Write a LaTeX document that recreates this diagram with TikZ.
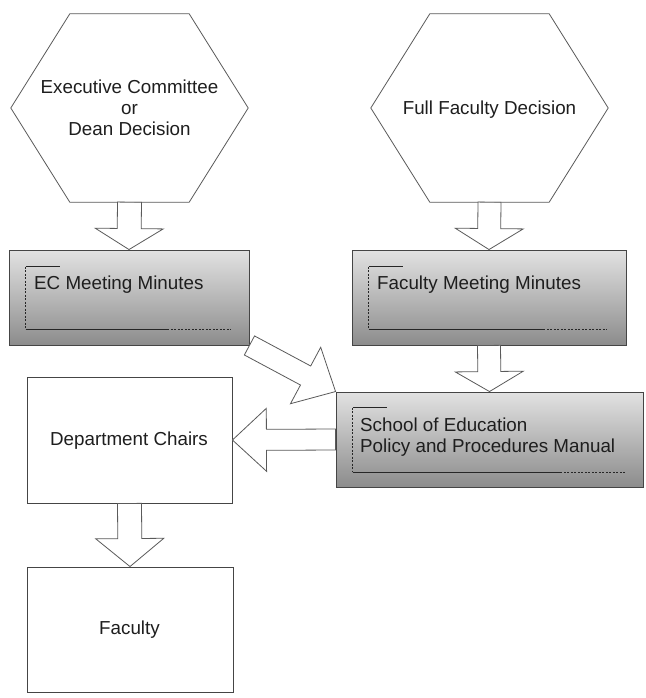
\documentclass[tikz,border=0pt]{standalone}
\usepackage{fontspec}
\setmainfont{Liberation Sans}
\usetikzlibrary{calc}
\definecolor{linegray}{HTML}{5A5A5A}
\definecolor{boxline}{HTML}{454545}
\definecolor{txt}{HTML}{1E1E1E}
\definecolor{gtop}{HTML}{E2E2E2}
\definecolor{gbot}{HTML}{8C8C8C}
\tikzset{
  lbl/.style={inner sep=0pt, text=txt, font=\fontsize{18.8}{21}\selectfont},
  hexbox/.style={draw=none, minimum width=237pt, minimum height=188pt, inner sep=0pt},
  hexline/.style={draw=linegray, line width=0.8pt, fill=white, line join=miter},
  shadebox/.style={draw=boxline, line width=0.9pt, top color=gtop, bottom color=gbot, minimum height=95pt, inner sep=0pt},
  plainbox/.style={draw=boxline, line width=0.9pt, fill=white, inner sep=0pt},
  blockarr/.style={draw=linegray, line width=0.8pt, fill=white, line join=miter},
  brk/.style={draw=black!85, line width=0.8pt},
  brkd/.style={draw=black!85, line width=0.8pt, dash pattern=on 2pt off 1.5pt},
}
% #1 prefix, #2 tail node anchor, #3 tip node anchor, #4 shaft half width, #5 head half width, #6 head length
\newcommand\blockarrow[6]{%
  \coordinate (#1h) at ($(#3)!#6!(#2)$);
  \draw[blockarr] ($(#2)!#4!90:(#3)$) -- ($(#1h)!#4!-90:(#2)$) -- ($(#1h)!#5!-90:(#2)$)
    -- (#3) -- ($(#1h)!#5!90:(#2)$) -- ($(#1h)!#4!90:(#2)$) -- ($(#2)!#4!-90:(#3)$) -- cycle;
}
% #1 node, #2 top offset, #3 bottom offset, #4 solid end from right, #5 dashed end from right
\newcommand\docbracket[5]{%
  \draw[brk] ($(#1.north west)+(51,#2)$) -- ($(#1.north west)+(17,#2)$);
  \draw[brkd] ($(#1.north west)+(17,#2)$) -- ($(#1.south west)+(17,-#3)$);
  \draw[brk] ($(#1.south west)+(17,-#3)$) -- ($(#1.south east)+(-#4,-#3)$);
  \draw[brkd] ($(#1.south east)+(-#4,-#3)$) -- ($(#1.south east)+(-#5,-#3)$);
}
\begin{document}
\begin{tikzpicture}[x=1pt, y=-1pt]
\useasboundingbox (0,0) rectangle (645,698);
\fill[white] (0,0) rectangle (645,698);

% hexagons
\node[hexbox] (hex1) at (129.5,108) {};
\draw[hexline] (hex1.west) -- ([xshift=59pt]hex1.north west) -- ([xshift=-59pt]hex1.north east)
  -- (hex1.east) -- ([xshift=-59pt]hex1.south east) -- ([xshift=59pt]hex1.south west) -- cycle;
\node[lbl, align=center] (hex1t) at (129.5,108) {Executive Committee\\or\\Dean Decision};

\node[hexbox] (hex2) at (489.5,108) {};
\draw[hexline] (hex2.west) -- ([xshift=59pt]hex2.north west) -- ([xshift=-59pt]hex2.north east)
  -- (hex2.east) -- ([xshift=-59pt]hex2.south east) -- ([xshift=59pt]hex2.south west) -- cycle;
\node[lbl, anchor=base] (hex2t) at (489.5,114.5) {Full Faculty Decision};

% document boxes
\node[shadebox, minimum width=240pt] (ec) at (129,297.5) {};
\docbracket{ec}{17}{16}{82}{18}
\node[lbl, anchor=base west] (ect) at (34,289) {EC Meeting Minutes};

\node[shadebox, minimum width=274pt] (fm) at (489,297.5) {};
\docbracket{fm}{17}{16}{83}{19}
\node[lbl, anchor=base west] (fmt) at (377,289) {Faculty Meeting Minutes};

\node[shadebox, minimum width=307pt] (sm) at (489.5,439.5) {};
\docbracket{sm}{16}{15}{83}{18}
\node[lbl, anchor=base west] (smt1) at (360,431) {School of Education};
\node[lbl, anchor=base west] (smt2) at (360,452) {Policy and Procedures Manual};

% plain boxes
\node[plainbox, minimum width=205pt, minimum height=126pt] (dc) at (129.5,440) {};
\node[lbl, anchor=base] (dct) at (129,445.5) {Department Chairs};
\node[plainbox, minimum width=206pt, minimum height=125pt] (fa) at (130,629.5) {};
\node[lbl, anchor=base] (fat) at (129.5,634.5) {Faculty};

% block arrows
\blockarrow{a1}{hex1.south}{ec.north}{12pt}{34pt}{21pt}
\blockarrow{a2}{hex2.south}{fm.north}{11.5pt}{34pt}{21pt}
\blockarrow{a3}{fm.south}{sm.north}{11.5pt}{34pt}{20pt}
\blockarrow{a4}{ec.south east}{sm.north west}{10.8pt}{32pt}{34pt}
\blockarrow{a5}{sm.west}{dc.east}{10.5pt}{31.5pt}{34pt}
\blockarrow{a6}{dc.south}{fa.north}{12pt}{34pt}{28pt}
\end{tikzpicture}
\end{document}
